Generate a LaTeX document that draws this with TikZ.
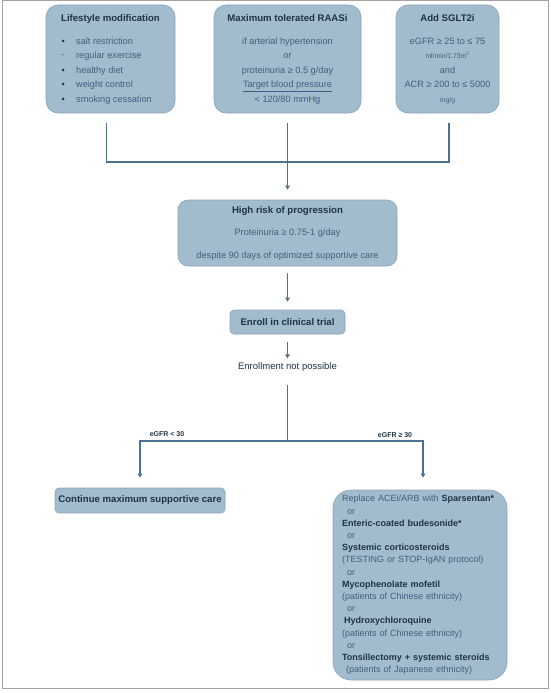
\documentclass[tikz,border=0pt]{standalone}
\usepackage{fontspec}
\setmainfont{Liberation Sans}
\usepackage{xcolor}
\usepackage{tikz}
\usetikzlibrary{arrows.meta,positioning}
\definecolor{steel}{HTML}{A2BBCD}
\definecolor{steeledge}{HTML}{86A3BA}
\definecolor{ink}{HTML}{1E3346}
\definecolor{softink}{HTML}{435F79}
\definecolor{wire}{HTML}{4D7291}
\definecolor{rim}{HTML}{A3A3A3}
\newcommand{\hd}[1]{{\fontsize{9.6}{11}\selectfont\bfseries\color{ink}#1}}
\newcommand{\bd}[1]{{\bfseries\color{ink}#1}}
\newcommand{\bul}{\makebox[4pt][c]{\color{ink}\textbullet}\hspace{11pt}}
\newcommand{\dotbul}{\makebox[4pt][c]{\raisebox{2pt}{\fontsize{4}{4}\selectfont\color{ink}\textbullet}}\hspace{11pt}}
\tikzset{
  box/.style={rectangle, rounded corners=12pt, draw=steeledge, fill=steel, line width=0.6pt,
              align=center, inner sep=0pt, text=softink, font=\fontsize{9.2}{14.5}\selectfont},
  slimbox/.style={box, rounded corners=4pt},
  lbl/.style={font=\fontsize{7}{8}\selectfont\bfseries, text=ink, inner sep=1pt},
  note/.style={font=\fontsize{9.5}{11}\selectfont, text=ink, inner sep=1pt},
  flow/.style={-{Triangle[length=4pt,width=4.5pt]}, draw=wire, line width=1.2pt},
  link/.style={draw=wire, line width=1.2pt}
}

\begin{document}
\begin{tikzpicture}[x=1pt, y=-1pt]
  \useasboundingbox (0,0) rectangle (551,693);
  \draw[draw=rim, line width=1pt] (2,1) rectangle (548,688);

  % supportive measures
  \node[box, align=left, minimum width=129pt, minimum height=108pt] (life) at (110.5,59)
    {\hd{Lifestyle modification}\\[8.5pt]
     \bul salt restriction\\
     \dotbul regular exercise\\
     \bul healthy diet\\
     \bul weight control\\
     \bul smoking cessation};
  \node[box, minimum width=147pt, minimum height=108pt] (raas) at (287.5,59)
    {\hd{Maximum tolerated RAASi}\\[8.5pt]
     if arterial hypertension\\
     or\\
     proteinuria ≥ 0.5 g/day\\
     \underline{Target blood pressure}\\
     < 120/80 mmHg};
  \node[box, minimum width=103pt, minimum height=108pt] (sglt) at (447.5,59)
    {\hd{Add SGLT2i}\\[8.5pt]
     eGFR ≥ 25 to ≤ 75\\
     {\fontsize{6.8}{7}\selectfont ml/min/1.73m\textsuperscript{2}}\\
     and\\
     ACR ≥ 200 to ≤ 5000\\
     {\fontsize{6.8}{7}\selectfont mg/g}};

  \coordinate (join) at (287.5,162);
  \draw[link, shorten <=10pt] ([xshift=-4pt]life.south) |- (join);
  \draw[link, shorten <=10pt] ([xshift=1.5pt]sglt.south) |- (join);
  \draw[link, shorten <=10pt] (raas.south) -- (join);

  \node[box, rounded corners=10pt, minimum width=219pt, minimum height=66pt] (risk) at (287.5,233)
    {\hd{High risk of progression}\\[7.5pt]
     Proteinuria ≥ 0.75-1 g/day\\[8.5pt]
     despite 90 days of optimized supportive care};
  \draw[flow, shorten >=10pt] (join) -- (risk.north);

  \node[slimbox, minimum width=115pt, minimum height=24pt] (enroll) at (287.5,322)
    {\hd{Enroll in clinical trial}};
  \draw[flow, shorten <=7pt, shorten >=8pt] (risk.south) -- (enroll.north);

  \node[note] (noenroll) at (287.5,367) {Enrollment not possible};
  \draw[flow, shorten <=8pt, shorten >=3pt] (enroll.south) -- (noenroll.north);

  % split by kidney function
  \coordinate (split) at (287.5,441);
  \draw[link, shorten <=12pt] (noenroll.south) -- (split);

  \node[slimbox, minimum width=170pt, minimum height=25pt] (cont) at (140,500.5)
    {\hd{Continue maximum supportive care}};
  \node[box, rounded corners=18pt, align=left, text width=162pt, inner xsep=6pt,
        minimum height=190pt, font=\fontsize{9}{12.2}\selectfont] (alt) at (420,585)
    {\hspace{3pt}Replace ACEi/ARB with \bd{Sparsentan*}\\
     \hspace{8pt}or\\
     \hspace{3pt}\bd{Enteric-coated budesonide*}\\
     \hspace{8pt}or\\
     \hspace{3pt}\bd{Systemic corticosteroids}\\
     \hspace{3pt}(TESTING or STOP-IgAN protocol)\\
     \hspace{8pt}or\\
     \hspace{3pt}\bd{Mycophenolate mofetil}\\
     \hspace{3pt}(patients of Chinese ethnicity)\\
     \hspace{8pt}or\\
     \hspace{5pt}\bd{Hydroxychloroquine}\\
     \hspace{3pt}(patients of Chinese ethnicity)\\
     \hspace{8pt}or\\
     \hspace{3pt}\bd{Tonsillectomy + systemic steroids}\\
     \hspace{7pt}(patients of Japanese ethnicity)};

  \draw[flow, shorten >=10pt] (split) -| (cont.north);
  \draw[flow, shorten >=12pt] (split) -| ([xshift=3pt]alt.north);
  \node[lbl] (low) at (167,434) {eGFR < 30};
  \node[lbl] (high) at (395,435) {eGFR ≥ 30};
\end{tikzpicture}
\end{document}
